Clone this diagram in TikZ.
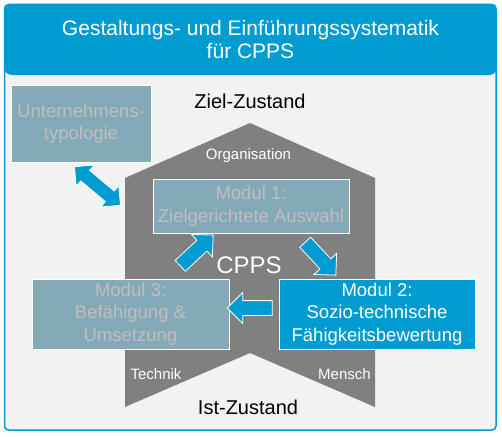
\documentclass[tikz,border=0pt]{standalone}
\usepackage{fontspec}
\setmainfont{Liberation Sans}
\usepackage{xcolor}
\usetikzlibrary{shapes.arrows}

\definecolor{cppsblue}{RGB}{0,156,209}
\definecolor{cppsgray}{RGB}{128,128,128}
\definecolor{cppsteal}{RGB}{132,170,184}
\definecolor{cppsbg}{RGB}{242,242,242}
\definecolor{cppstext}{RGB}{191,191,191}

\begin{document}
\begin{tikzpicture}[x=1pt, y=-1pt,
    header/.style={fill=cppsblue, rounded corners=8pt, minimum width=493pt, minimum height=71pt, inner sep=0pt, text=white, align=center, font=\fontsize{21}{23}\selectfont},
    box/.style={draw=white, line width=1pt, fill=cppsteal, text=cppstext, align=center, minimum width=196pt, inner sep=0pt, font=\fontsize{18.5}{22.5}\selectfont},
    lab/.style={inner sep=0pt, anchor=base, text=white, font=\fontsize{15}{18}\selectfont},
    state/.style={inner sep=0pt, anchor=base, font=\fontsize{20}{24}\selectfont},
    blockarrow/.style={single arrow, fill=cppsblue, draw=white, line width=0.8pt, inner xsep=0pt, inner ysep=7pt, single arrow head extend=8pt, minimum height=45pt, minimum width=0pt},
    dblarrow/.style={double arrow, fill=cppsblue, draw=white, line width=0.8pt, inner xsep=0pt, inner ysep=6.5pt, double arrow head extend=7pt, minimum height=60pt, minimum width=0pt}]
    \useasboundingbox (0,0) rectangle (502,436);
    % frame and header
    \draw[cppsblue, line width=1.5pt, fill=cppsbg, rounded corners=4pt] (4.5,4.5) rectangle (496,430);
    \node[header] (head) at (250.5,39.5) {Gestaltungs- und Einführungssystematik\\für CPPS};
    % house shape
    \fill[cppsgray] (125,178) -- (250,123) -- (375,178) -- (375,407) -- (250,353) -- (125,407) -- cycle;
    \node[state] (ziel) at (250,108) {Ziel-Zustand};
    \node[state] (ist) at (248,414) {Ist-Zustand};
    \node[lab] (org) at (248.5,159) {Organisation};
    \node[lab] (tech) at (156,379) {Technik};
    \node[lab] (mensch) at (344.5,379) {Mensch};
    \node[lab, font=\fontsize{24}{28}\selectfont] (cpps) at (249,273) {CPPS};
    % boxes
    \node[box, minimum width=140pt, minimum height=77pt] (typo) at (81,123.5) {Unternehmens-\\typologie};
    \node[box, minimum height=54pt] (m1) at (251,206) {Modul 1:\\Zielgerichtete Auswahl};
    \node[box, minimum width=197pt, minimum height=70pt] (m3) at (130.5,314) {Modul 3:\\Befähigung \&\\Umsetzung};
    \node[box, fill=cppsblue, text=white, minimum height=70pt] (m2) at (377,314) {Modul 2:\\Sozio-technische\\Fähigkeitsbewertung};
    % arrows
    \node[dblarrow, rotate=-40] (a0) at (97.5,186) {};
    \node[blockarrow, rotate=43] (a31) at (194,253) {};
    \node[blockarrow, rotate=-47] (a12) at (318,256) {};
    \node[blockarrow, rotate=180] (a23) at (253.5,308) {};
\end{tikzpicture}
\end{document}
